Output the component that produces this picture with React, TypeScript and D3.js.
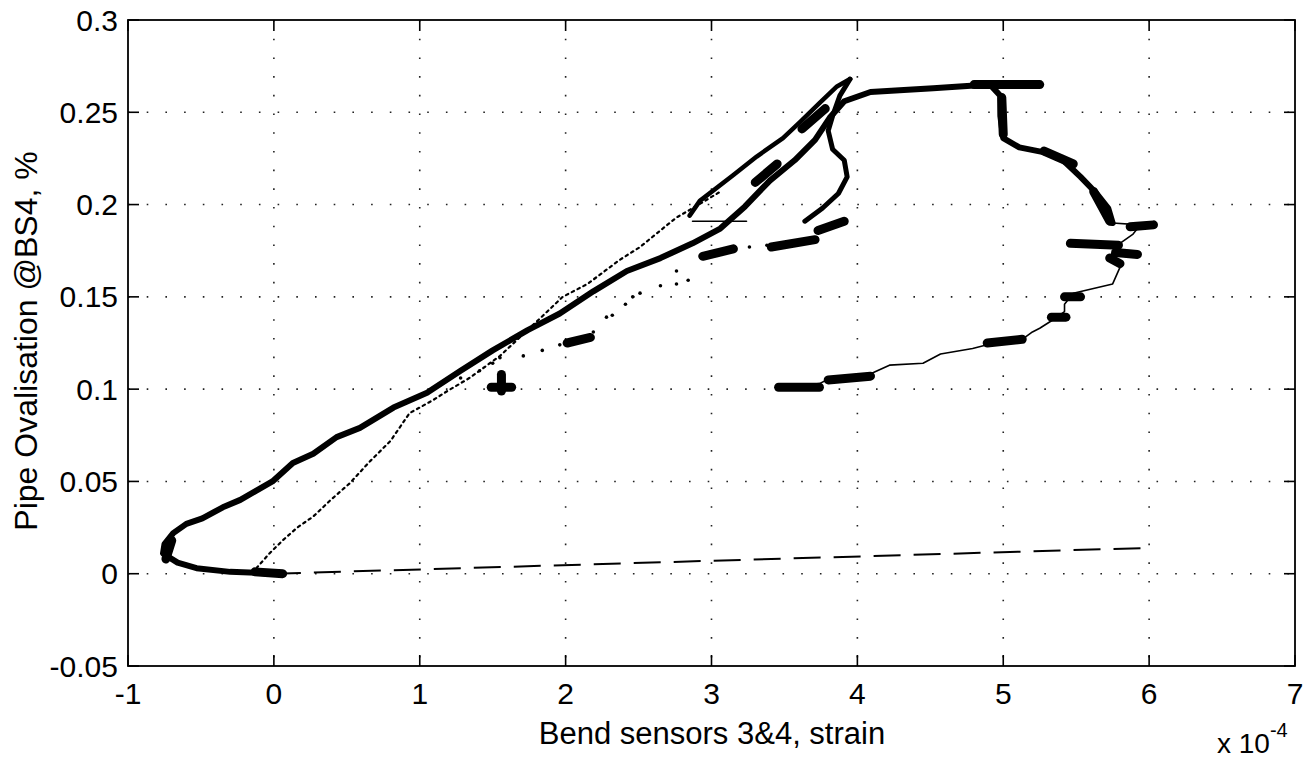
import React from "react";
import * as d3 from "d3";

const W = 1307;
const H = 761;
const PLOT = { left: 128, right: 1295, top: 20, bottom: 666 };

// axes
const xTicks = [-1, 0, 1, 2, 3, 4, 5, 6, 7];
const xTickLabels = ["-1", "0", "1", "2", "3", "4", "5", "6", "7"];
const yTicks = [-0.05, 0, 0.05, 0.1, 0.15, 0.2, 0.25, 0.3];
const yTickLabels = ["-0.05", "0", "0.05", "0.1", "0.15", "0.2", "0.25", "0.3"];
const xLabel = "Bend sensors 3&4, strain";
const yLabel = "Pipe Ovalisation @BS4, %";

// main loading path (thick, noisy band) — x in 1e-4 strain, y in %
const mainX = [0.04, -0.30, -0.53, -0.66, -0.76, -0.75, -0.69, -0.60, -0.49, -0.35, -0.23, -0.12, -0.01, 0.13, 0.27, 0.43, 0.59, 0.82, 1.05, 1.28, 1.50, 1.74, 1.96, 2.19, 2.42, 2.65, 2.87, 3.06, 3.23, 3.40, 3.57, 3.71, 3.81, 3.91, 4.09, 4.29, 4.52, 4.70, 4.91, 4.98, 4.98, 5.00, 5.11, 5.30, 5.41, 5.53, 5.64, 5.72, 5.75];
const mainY = [0.000, 0.001, 0.003, 0.006, 0.011, 0.016, 0.022, 0.027, 0.030, 0.036, 0.040, 0.045, 0.050, 0.060, 0.065, 0.074, 0.079, 0.090, 0.098, 0.110, 0.121, 0.132, 0.141, 0.153, 0.164, 0.171, 0.179, 0.187, 0.199, 0.213, 0.224, 0.235, 0.247, 0.256, 0.261, 0.262, 0.263, 0.264, 0.265, 0.259, 0.248, 0.236, 0.231, 0.228, 0.224, 0.215, 0.206, 0.198, 0.190];

// continuation of the main path (thin line, lower right)
const tailX = [5.75, 5.94, 5.89, 5.80, 5.73, 5.80, 5.75, 5.48, 5.42, 5.42, 5.35, 5.25, 5.20, 5.13, 4.89, 4.79, 4.57, 4.45, 4.22, 4.11, 3.95, 3.79, 3.74, 3.46];
const tailY = [0.190, 0.189, 0.184, 0.179, 0.172, 0.166, 0.157, 0.152, 0.146, 0.142, 0.138, 0.133, 0.131, 0.127, 0.124, 0.122, 0.119, 0.114, 0.113, 0.109, 0.106, 0.105, 0.103, 0.101];

// second strand of the band near the top
const strandX = [2.85, 2.92, 3.15, 3.31, 3.49, 3.61, 3.74, 3.86, 3.95];
const strandY = [0.194, 0.202, 0.216, 0.226, 0.236, 0.245, 0.255, 0.264, 0.268];

// inner arc
const arcX = [3.95, 3.88, 3.83, 3.80, 3.83, 3.91, 3.93, 3.87, 3.76, 3.64];
const arcY = [0.268, 0.259, 0.248, 0.240, 0.230, 0.224, 0.215, 0.206, 0.198, 0.191];

// dotted unloading path
const dottedX = [-0.12, -0.03, 0.06, 0.16, 0.27, 0.39, 0.52, 0.66, 0.80, 0.93, 1.09, 1.19, 1.34, 1.55, 1.82, 1.98, 2.15, 2.37, 2.51, 2.65, 2.76, 2.87, 3.06];
const dottedY = [0.003, 0.011, 0.018, 0.025, 0.031, 0.040, 0.049, 0.061, 0.072, 0.087, 0.094, 0.099, 0.106, 0.118, 0.138, 0.150, 0.157, 0.170, 0.177, 0.186, 0.193, 0.198, 0.207];

// sparse points below the band
const sparseX = [1.28, 1.41, 1.50, 1.55, 1.71, 1.84, 1.96, 2.19, 2.28, 2.32, 2.41, 2.46, 2.51, 2.65, 2.76, 2.84, 2.76, 3.26, 3.38];
const sparseY = [0.106, 0.110, 0.114, 0.117, 0.118, 0.121, 0.124, 0.131, 0.139, 0.140, 0.146, 0.150, 0.152, 0.156, 0.157, 0.159, 0.164, 0.177, 0.178];

// dense clusters (short heavy strokes)
const blobX1 = [-0.13, -0.74, 1.49, 1.56, 2.01, 2.94, 3.41, 3.73, 4.80, 4.99, 5.28, 5.62, 5.46, 5.77, 5.87, 5.73, 5.42, 5.33, 4.89, 3.80, 3.46, 3.30, 3.62];
const blobY1 = [0.001, 0.008, 0.101, 0.108, 0.125, 0.172, 0.177, 0.186, 0.265, 0.258, 0.229, 0.207, 0.179, 0.174, 0.188, 0.171, 0.150, 0.139, 0.125, 0.105, 0.101, 0.212, 0.241];
const blobX2 = [0.06, -0.70, 1.63, 1.56, 2.17, 3.15, 3.71, 3.91, 5.25, 5.00, 5.48, 5.73, 5.79, 5.92, 6.03, 5.80, 5.53, 5.43, 5.13, 4.09, 3.74, 3.45, 3.78];
const blobY2 = [0.000, 0.018, 0.101, 0.099, 0.128, 0.176, 0.181, 0.191, 0.265, 0.238, 0.222, 0.191, 0.178, 0.173, 0.189, 0.168, 0.150, 0.139, 0.127, 0.107, 0.101, 0.222, 0.252];

// thin horizontal spike
const spikeX = [2.87, 3.24];
const spikeY = [0.191, 0.191];

// dashed reference line
const dashX = [0, 6];
const dashY = [0, 0.014];

const FONT = "'Liberation Sans', Arial, Helvetica, sans-serif";

export default function App() {
  const x = d3.scaleLinear().domain([-1, 7]).range([PLOT.left, PLOT.right]);
  const y = d3.scaleLinear().domain([-0.05, 0.3]).range([PLOT.bottom, PLOT.top]);
  const line = d3
    .line<[number, number]>()
    .x((d) => x(d[0]))
    .y((d) => y(d[1]));
  const zip = (a: number[], b: number[]) => a.map((v, i) => [v, b[i]] as [number, number]);

  const tickLen = 11;
  const gridDash = "1.6,17.1";

  return (
    <svg
      width={W}
      height={H}
      style={{ position: "absolute", left: 0, top: 0, background: "#fff" }}
      fontFamily={FONT}
    >
      <rect x={0} y={0} width={W} height={H} fill="#fff" />
      {/* grid */}
      <g stroke="#222" strokeWidth={1.6} strokeDasharray={gridDash}>
        {xTicks.slice(1, -1).map((t) => (
          <line key={"gx" + t} x1={x(t)} x2={x(t)} y1={PLOT.top} y2={PLOT.bottom} />
        ))}
        {yTicks.slice(1, -1).map((t) => (
          <line key={"gy" + t} x1={PLOT.left} x2={PLOT.right} y1={y(t)} y2={y(t)} />
        ))}
      </g>

      {/* data */}
      <g fill="none" stroke="#000" strokeLinejoin="round" strokeLinecap="round">
        <path d={line(zip(dashX, dashY)) || ""} strokeWidth={2} strokeDasharray="27,13" strokeLinecap="butt" />
        <path d={line(zip(dottedX, dottedY)) || ""} strokeWidth={2.2} strokeDasharray="2.5,4" />
        <path d={line(zip(mainX, mainY)) || ""} strokeWidth={6} />
        <path d={line(zip(strandX, strandY)) || ""} strokeWidth={4.5} />
        <path d={line(zip(arcX, arcY)) || ""} strokeWidth={5} />
        <path d={line(zip(tailX, tailY)) || ""} strokeWidth={1.6} />
        <path d={line(zip(spikeX, spikeY)) || ""} strokeWidth={1.6} />
        {blobX1.map((v, i) => (
          <line
            key={"b" + i}
            x1={x(v)}
            y1={y(blobY1[i])}
            x2={x(blobX2[i])}
            y2={y(blobY2[i])}
            strokeWidth={9}
          />
        ))}
      </g>
      <g fill="#000">
        {sparseX.map((v, i) => (
          <circle key={"s" + i} cx={x(v)} cy={y(sparseY[i])} r={1.8} />
        ))}
      </g>

      {/* box and ticks */}
      <rect
        x={PLOT.left}
        y={PLOT.top}
        width={PLOT.right - PLOT.left}
        height={PLOT.bottom - PLOT.top}
        fill="none"
        stroke="#000"
        strokeWidth={1.8}
      />
      <g stroke="#000" strokeWidth={1.6}>
        {xTicks.map((t) => (
          <g key={"tx" + t}>
            <line x1={x(t)} x2={x(t)} y1={PLOT.bottom} y2={PLOT.bottom - tickLen} />
            <line x1={x(t)} x2={x(t)} y1={PLOT.top} y2={PLOT.top + tickLen} />
          </g>
        ))}
        {yTicks.map((t) => (
          <g key={"ty" + t}>
            <line x1={PLOT.left} x2={PLOT.left + tickLen} y1={y(t)} y2={y(t)} />
            <line x1={PLOT.right} x2={PLOT.right - tickLen} y1={y(t)} y2={y(t)} />
          </g>
        ))}
      </g>

      {/* tick labels */}
      <g fontSize={30} fill="#000">
        {xTicks.map((t, i) => (
          <text key={"lx" + t} x={x(t)} y={704} textAnchor="middle">
            {xTickLabels[i]}
          </text>
        ))}
        {yTicks.map((t, i) => (
          <text key={"ly" + t} x={118} y={y(t) + 10.5} textAnchor="end">
            {yTickLabels[i]}
          </text>
        ))}
      </g>

      {/* axis labels */}
      <text x={712} y={744} fontSize={31} textAnchor="middle">
        {xLabel}
      </text>
      <text
        transform={`translate(37, 341) rotate(-90)`}
        fontSize={32}
        textAnchor="middle"
      >
        {yLabel}
      </text>
      <text x={1217} y={753} fontSize={28}>
        x 10
        <tspan dy={-16} fontSize={20}>
          -4
        </tspan>
      </text>
    </svg>
  );
}
